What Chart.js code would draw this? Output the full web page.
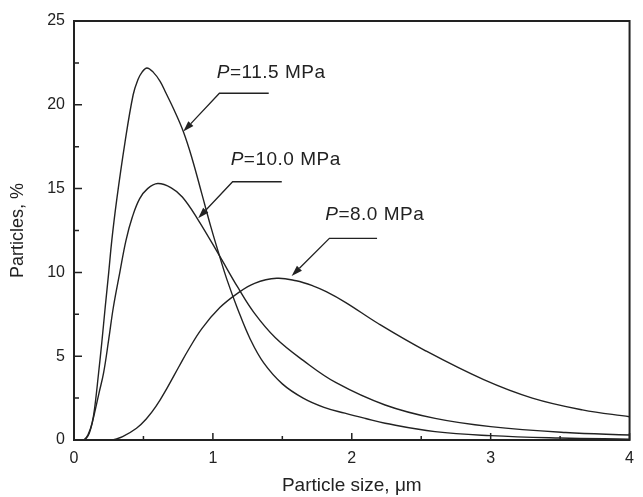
<!DOCTYPE html>
<html>
<head>
<meta charset="utf-8">
<script src="https://cdn.jsdelivr.net/npm/chart.js@4.4.1/dist/chart.umd.min.js"></script>
<style>
  html, body { margin: 0; padding: 0; background: #fff; }
  #wrap { width: 643px; height: 497px; }
</style>
</head>
<body>
<div id="wrap"><canvas id="psdChart"></canvas></div>
<script>
// particle size (um) and share of particles (%)
const size115 = [0.05, 0.07, 0.1, 0.13, 0.15, 0.177, 0.2, 0.225, 0.25, 0.272, 0.307, 0.366, 0.426, 0.46, 0.49, 0.525, 0.57, 0.62, 0.662, 0.72, 0.787, 0.85, 0.92, 0.986, 1.047, 1.1, 1.177, 1.27, 1.366, 1.5, 1.65, 1.8, 1.95, 2.1, 2.24, 2.6, 3.0, 3.5, 4.0];
const part115 = [0, 0, 0.3, 1.0, 2.0, 4.0, 5.8, 7.95, 10.0, 11.9, 14.3, 17.7, 20.6, 21.5, 21.95, 22.2, 21.95, 21.4, 20.7, 19.7, 18.4, 16.8, 14.7, 12.7, 11.0, 9.6, 7.85, 6.0, 4.6, 3.35, 2.5, 1.95, 1.6, 1.28, 1.0, 0.5, 0.26, 0.12, 0.05];

const size100 = [0.08, 0.11, 0.142, 0.18, 0.213, 0.25, 0.284, 0.33, 0.374, 0.42, 0.473, 0.53, 0.603, 0.7, 0.78, 0.889, 1.047, 1.18, 1.296, 1.45, 1.65, 1.887, 2.24, 2.6, 3.0, 3.54, 4.0];
const part100 = [0, 0.4, 1.4, 2.8, 4.0, 6.0, 7.95, 10.0, 11.9, 13.3, 14.4, 15.0, 15.3, 15.05, 14.5, 13.2, 11.0, 9.1, 7.6, 6.1, 4.75, 3.42, 2.09, 1.29, 0.8, 0.45, 0.3];

const size80 = [0.28, 0.35, 0.45, 0.52, 0.59, 0.67, 0.757, 0.823, 0.922, 1.05, 1.177, 1.3, 1.46, 1.6, 1.72, 1.816, 1.957, 2.19, 2.525, 2.95, 3.3, 3.66, 4.0];
const part80 = [0, 0.2, 0.7, 1.25, 2.0, 3.1, 4.4, 5.37, 6.66, 7.9, 8.75, 9.35, 9.65, 9.5, 9.2, 8.85, 8.2, 6.95, 5.35, 3.6, 2.5, 1.8, 1.39];

const xTicks = [0, 1, 2, 3, 4];
const yTicks = [0, 5, 10, 15, 20, 25];

// pressure labels with their leader arrows (data units)
const pressures = ["11.5", "10.0", "8.0"];
const labelX = [1.028, 1.128, 1.809];
const labelY = [21.92, 16.75, 13.42];
const leaderEndX = [1.402, 1.496, 2.182];
const leaderBendX = [1.047, 1.142, 1.839];
const leaderY = [20.69, 15.41, 12.03];
const tipX = [0.787, 0.894, 1.567];
const tipY = [18.4, 13.23, 9.79];

const FONT = "'Liberation Sans', Arial, sans-serif";
const INK = "#222";

function pairs(xs, ys) {
    return xs.map((x, i) => ({ x: x, y: ys[i] }));
}

function curve(xs, ys) {
    return {
        data: pairs(xs, ys),
        borderColor: INK,
        borderWidth: 1.4,
        pointRadius: 0,
        fill: false,
        tension: 0.4
    };
}

// frame, inward ticks and the pressure annotations
const decorations = {
    id: "decorations",
    afterDatasetsDraw(chart) {
        const c = chart.ctx;
        const a = chart.chartArea;
        const xs = chart.scales.x;
        const ys = chart.scales.y;
        c.save();
        c.strokeStyle = INK;

        c.lineWidth = 1.5;
        c.beginPath();
        xTicks.forEach((v, i) => {
            const px = xs.getPixelForValue(v);
            c.moveTo(px, a.bottom); c.lineTo(px, a.bottom - 7);
            if (i < xTicks.length - 1) {
                const mx = xs.getPixelForValue((v + xTicks[i + 1]) / 2);
                c.moveTo(mx, a.bottom); c.lineTo(mx, a.bottom - 4);
            }
        });
        yTicks.forEach((v, i) => {
            const py = ys.getPixelForValue(v);
            c.moveTo(a.left, py); c.lineTo(a.left + 8, py);
            if (i < yTicks.length - 1) {
                const my = ys.getPixelForValue((v + yTicks[i + 1]) / 2);
                c.moveTo(a.left, my); c.lineTo(a.left + 5, my);
            }
        });
        c.stroke();

        c.lineWidth = 2;
        c.strokeRect(a.left, a.top, a.right - a.left, a.bottom - a.top);

        // annotations
        c.lineWidth = 1.3;
        c.fillStyle = INK;
        c.letterSpacing = "0.5px";
        pressures.forEach((p, i) => {
            const tx = xs.getPixelForValue(labelX[i]);
            const ty = ys.getPixelForValue(labelY[i]);
            c.textBaseline = "middle";
            c.textAlign = "left";
            c.font = "italic 19px " + FONT;
            c.fillText("P", tx, ty);
            const w = c.measureText("P").width;
            c.font = "19px " + FONT;
            c.fillText("=" + p + " MPa", tx + w, ty);

            const ex = xs.getPixelForValue(leaderEndX[i]);
            const bx = xs.getPixelForValue(leaderBendX[i]);
            const ly = ys.getPixelForValue(leaderY[i]);
            const px = xs.getPixelForValue(tipX[i]);
            const py = ys.getPixelForValue(tipY[i]);
            const ang = Math.atan2(py - ly, px - bx);
            const head = 11, half = 3.5;
            const hx = px - head * Math.cos(ang);
            const hy = py - head * Math.sin(ang);
            c.beginPath();
            c.moveTo(ex, ly); c.lineTo(bx, ly); c.lineTo(hx, hy);
            c.stroke();
            c.beginPath();
            c.moveTo(px, py);
            c.lineTo(hx + half * Math.sin(ang), hy - half * Math.cos(ang));
            c.lineTo(hx - half * Math.sin(ang), hy + half * Math.cos(ang));
            c.closePath();
            c.fill();
        });
        c.restore();
    }
};

new Chart(document.getElementById("psdChart"), {
    type: "line",
    data: {
        datasets: [curve(size115, part115), curve(size100, part100), curve(size80, part80)]
    },
    options: {
        responsive: true,
        maintainAspectRatio: false,
        animation: false,
        layout: { padding: { top: 21, right: 5, left: 0, bottom: 0 } },
        plugins: { legend: { display: false }, tooltip: { enabled: false } },
        scales: {
            x: {
                type: "linear",
                min: 0,
                max: 4,
                afterBuildTicks: s => { s.ticks = xTicks.map(v => ({ value: v })); },
                afterFit: s => { s.height = 57; },
                grid: { display: false, drawTicks: false, tickLength: 0 },
                border: { display: false },
                ticks: { color: INK, font: { family: FONT, size: 16 }, padding: 9, maxRotation: 0 },
                title: { display: true, text: "Particle size, μm", color: INK, font: { family: FONT, size: 19 }, padding: { top: 0, bottom: 0 } }
            },
            y: {
                type: "linear",
                min: 0,
                max: 25,
                afterBuildTicks: s => { s.ticks = yTicks.map(v => ({ value: v })); },
                afterFit: s => { s.width = 74; },
                grid: { display: false, drawTicks: false, tickLength: 0 },
                border: { display: false },
                ticks: { color: INK, font: { family: FONT, size: 16 }, padding: 9 },
                title: { display: true, text: "Particles, %", color: INK, font: { family: FONT, size: 18 }, padding: { top: 7, bottom: 0 } }
            }
        }
    },
    plugins: [decorations]
});
</script>
</body>
</html>
